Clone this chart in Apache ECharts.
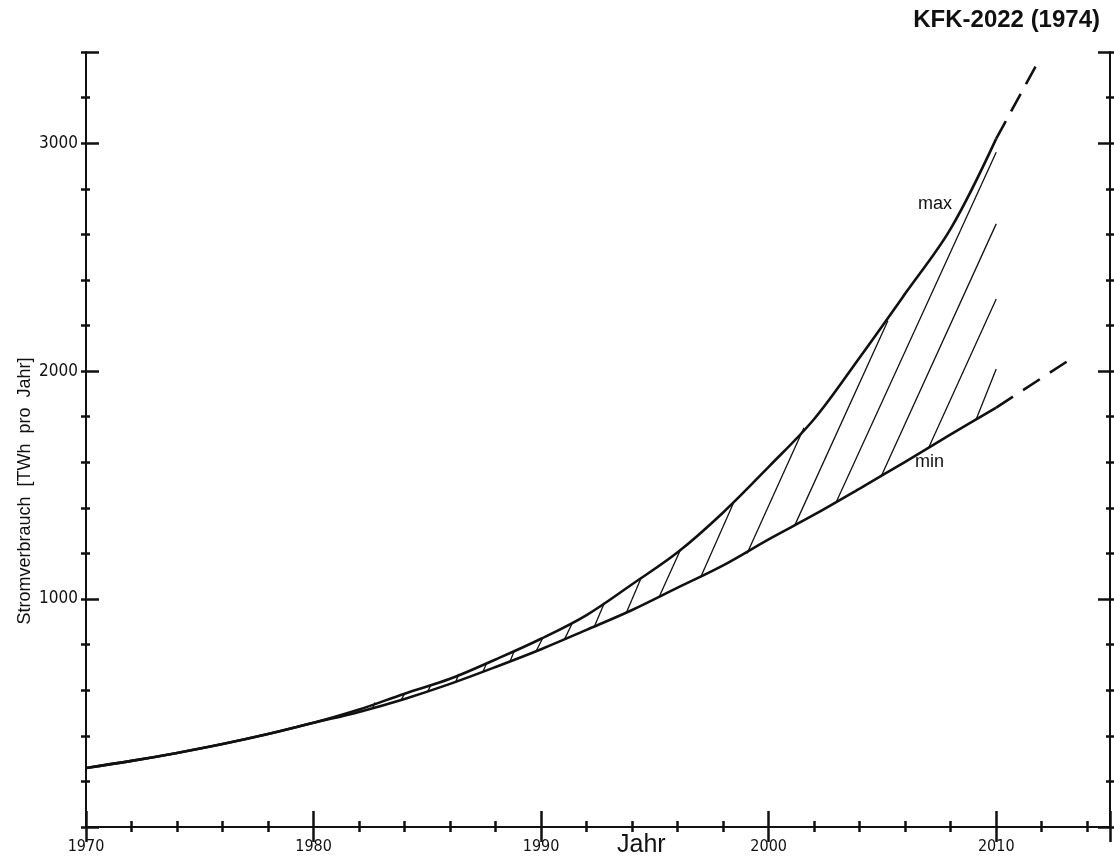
<!DOCTYPE html>
<html><head><meta charset="utf-8">
<script src="https://cdn.jsdelivr.net/npm/echarts@6/dist/echarts.min.js"></script>
<style>html,body{margin:0;padding:0;background:#fff}#c{width:1114px;height:863px}</style>
</head><body><div id="c"></div>
<script>
// ---- data ----
const years   = [1970,1972,1974,1976,1978,1980,1982,1984,1986,1988,1990,1992,1994,1996,1998,2000,2002,2004,2006,2008,2010];
const maxVals = [259, 290, 325, 364, 408, 457, 515, 585, 650, 735, 826, 930,1065,1205,1380,1580,1790,2060,2340,2625,3020];
const minVals = [259, 290, 325, 364, 408, 457, 505, 562, 628, 702, 780, 865, 952,1050,1148,1262,1370,1485,1602,1722,1840];
const maxExtYears = [2010, 2011.8];
const maxExtVals  = [3020, 3349];
const minExtYears = [2010, 2013.4];
const minExtVals  = [1840, 2061];
const hatchStartYears = [1982.6,1983.85,1985.02,1986.26,1987.44,1988.64,1989.78,1991.02,1992.34,1993.74,1995.2,1997.03,1999.05,2001.13,2002.97,2004.95,2007.03,2009.12];
const hatchStartVals  = [522, 558, 595, 639, 680, 727, 771, 822, 880, 939,1012,1100,1200,1320,1426,1540,1664,1789];
const hatchEndYears   = [1982.7,1983.99,1985.16,1986.38,1987.61,1988.83,1990.07,1991.39,1992.78,1994.4,1996.12,1998.45,2001.55,2005.24,2010,2010,2010,2010];
const hatchEndVals    = [546, 583, 624, 671, 719, 775, 829, 898, 983,1093,1215,1420,1752,2221,2960,2646,2316,2009];
const xTickLabels = [1970,1980,1990,2000,2010];
const yTickLabels = [1000,2000,3000];
const titleText = 'KFK-2022 (1974)';
const yName = 'Stromverbrauch  [TWh  pro  Jahr]';
const xName = 'Jahr';
const curveNames = ['max','min'];

const FONT = '"Liberation Sans Narrow","DejaVu Sans Condensed","Liberation Sans",sans-serif';
const INK = '#111';

function xa(pos, interval, len, inside, showLine, showLabel) {
  return {
    type:'value', position:pos, min:1970, max:2015, interval:interval,
    axisLine:{show:showLine, lineStyle:{color:INK, width:2}},
    axisTick:{show:true, inside:inside, length:len, lineStyle:{color:INK, width:2.5}},
    axisLabel:{show:showLabel, margin:12, fontSize:16, fontFamily:FONT, color:INK,
      formatter: v => xTickLabels.includes(v) ? String(v) : ''},
    splitLine:{show:false}
  };
}
function ya(pos, interval, len, inside, showLine, showLabel) {
  return {
    type:'value', position:pos, min:0, max:3400, interval:interval,
    axisLine:{show:showLine, lineStyle:{color:INK, width:2}},
    axisTick:{show:true, inside:inside, length:len, lineStyle:{color:INK, width:2.5}},
    axisLabel:{show:showLabel, margin:8, fontSize:17, fontFamily:FONT, color:INK,
      formatter: v => yTickLabels.includes(v) ? String(v) : ''},
    splitLine:{show:false}
  };
}

const series = [];
function line(xs, vs, width, dash, smooth) {
  series.push({
    type:'line', xAxisIndex:0, yAxisIndex:0, showSymbol:false, symbol:'none',
    smooth: smooth ? 0.35 : false,
    data: xs.map((x,i)=>[x, vs[i]]),
    lineStyle:{color:INK, width:width, type: dash || 'solid'},
    silent:true, z:3
  });
}
line(years, maxVals, 2.6, null, true);
line(years, minVals, 2.6, null, true);
line(maxExtYears, maxExtVals, 2.6, [20,11], false);
line(minExtYears, minExtVals, 2.6, [20,12], false);
for (let i=0;i<hatchStartYears.length;i++) {
  line([hatchStartYears[i], hatchEndYears[i]], [hatchStartVals[i], hatchEndVals[i]], 1.3, null, false);
}

const chart = echarts.init(document.getElementById('c'), null, {renderer:'canvas'});
chart.setOption({
  animation:false,
  backgroundColor:'#fff',
  grid:{left:86, right:4, top:52, bottom:36, containLabel:false},
  xAxis:[
    xa('bottom',10,16,true,true,true),
    xa('bottom',2,4,true,false,false),
    xa('bottom',2,5,false,false,false),
    xa('top',10,15,true,true,false),
    xa('top',2,4,true,false,false),
    xa('top',2,6,false,false,false)
  ],
  yAxis:[
    ya('left',1000,13,true,true,true),
    ya('left',200,4,true,false,false),
    ya('left',200,5,false,false,false),
    ya('right',1000,12,true,true,false),
    ya('right',200,4,true,false,false),
    ya('right',200,5,false,false,false)
  ],
  series: series,
  graphic:[
    {type:'text', right:14, top:8, style:{text:titleText, font:'bold 24px "Liberation Sans",sans-serif', fill:INK}},
    {type:'text', x:25, y:491, rotation:Math.PI/2, style:{text:yName, font:'18px "Liberation Sans",sans-serif', fill:INK, textAlign:'center', textVerticalAlign:'middle'}},
    {type:'text', x:617, y:845, style:{text:xName, font:'25px "Liberation Sans",sans-serif', fill:INK, textAlign:'left', textVerticalAlign:'middle'}},
    {type:'text', x:918, y:204, style:{text:curveNames[0], font:'18px "Liberation Sans",sans-serif', fill:INK, textAlign:'left', textVerticalAlign:'middle'}},
    {type:'text', x:915, y:462, style:{text:curveNames[1], font:'18px "Liberation Sans",sans-serif', fill:INK, textAlign:'left', textVerticalAlign:'middle'}}
  ]
});
</script></body></html>
